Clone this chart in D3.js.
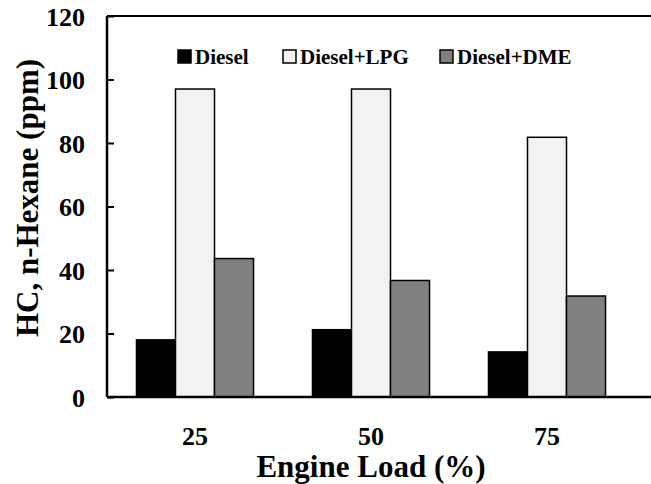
<!DOCTYPE html>
<html>
<head>
<meta charset="utf-8">
<script src="https://cdn.jsdelivr.net/npm/d3@7"></script>
<style>
    body { margin: 0; background: #fff; }
    text { font-family: "Liberation Serif", "Times New Roman", serif; font-weight: bold; fill: #000; }
</style>
</head>
<body>
<div id="chartContainer"></div>
<script>
/***** Chart data */

const engineLoads = ['25', '50', '75'];
const seriesNames = ['Diesel', 'Diesel+LPG', 'Diesel+DME'];
const seriesColors = ['#000000', '#f2f2f2', '#808080'];
const dieselValues = [18, 21.2, 14.2];
const lpgValues = [97, 97, 81.8];
const dmeValues = [43.6, 36.7, 31.8];
const yTicks = [0, 20, 40, 60, 80, 100, 120];

/***** Drawing */

const width = 651;
const height = 484;
const plotLeft = 107;
const plotRight = 635;
const plotTop = 16;
const plotBottom = 397;

const svg = d3.select('#chartContainer').append('svg')
    .attr('width', width)
    .attr('height', height);

const x0 = d3.scaleBand()
    .domain(engineLoads)
    .range([plotLeft, plotRight])
    .paddingInner(0.335)
    .paddingOuter(0.1675);

const x1 = d3.scaleBand()
    .domain(seriesNames)
    .range([0, x0.bandwidth()]);

const y = d3.scaleLinear()
    .domain([0, 120])
    .range([plotBottom, plotTop]);

const color = d3.scaleOrdinal()
    .domain(seriesNames)
    .range(seriesColors);

const allValues = [dieselValues, lpgValues, dmeValues];

// one group per engine load, one bar per fuel
const groups = svg.selectAll('.loadGroup')
    .data(engineLoads)
    .enter()
    .append('g')
    .attr('class', 'loadGroup')
    .attr('transform', load => `translate(${x0(load)},0)`);

groups.selectAll('rect')
    .data((load, i) => seriesNames.map((name, s) => ({ name: name, value: allValues[s][i] })))
    .enter()
    .append('rect')
    .attr('x', d => x1(d.name))
    .attr('y', d => y(d.value))
    .attr('width', x1.bandwidth())
    .attr('height', d => y(0) - y(d.value))
    .attr('fill', d => color(d.name))
    .attr('stroke', '#000')
    .attr('stroke-width', 1.5);

// y axis, ticks pointing into the plot
const yAxis = svg.append('g')
    .attr('transform', `translate(${plotLeft},0)`)
    .call(d3.axisRight(y).tickValues(yTicks).tickSize(7).tickFormat(d3.format('d')));
yAxis.select('.domain').remove();
yAxis.selectAll('line').attr('stroke', '#000').attr('stroke-width', 2);
yAxis.selectAll('text')
    .attr('x', -22)
    .attr('text-anchor', 'end')
    .attr('dy', '0.35em')
    .style('font-size', '26px');

// frame: left, bottom and top lines (right side is cut off)
svg.append('line')
    .attr('x1', plotLeft).attr('x2', plotLeft)
    .attr('y1', plotTop).attr('y2', plotBottom)
    .attr('stroke', '#000').attr('stroke-width', 2.5);
svg.append('line')
    .attr('x1', plotLeft).attr('x2', width)
    .attr('y1', plotBottom).attr('y2', plotBottom)
    .attr('stroke', '#000').attr('stroke-width', 2.5);
svg.append('line')
    .attr('x1', plotLeft).attr('x2', width)
    .attr('y1', plotTop).attr('y2', plotTop)
    .attr('stroke', '#000').attr('stroke-width', 2);

// x labels
svg.selectAll('.xLabel')
    .data(engineLoads)
    .enter()
    .append('text')
    .attr('class', 'xLabel')
    .attr('x', load => x0(load) + x0.bandwidth() / 2)
    .attr('y', 445)
    .attr('text-anchor', 'middle')
    .style('font-size', '26px')
    .text(load => load);

svg.append('text')
    .attr('x', (plotLeft + plotRight) / 2)
    .attr('y', 477)
    .attr('text-anchor', 'middle')
    .style('font-size', '31px')
    .text('Engine Load (%)');

svg.append('text')
    .attr('transform', `translate(38,198) rotate(-90)`)
    .attr('text-anchor', 'middle')
    .style('font-size', '31px')
    .text('HC, n-Hexane (ppm)');

// legend
const legendX = [178, 283, 440];
const legend = svg.selectAll('.legendItem')
    .data(seriesNames)
    .enter()
    .append('g')
    .attr('class', 'legendItem')
    .attr('transform', (name, i) => `translate(${legendX[i]},50)`);
legend.append('rect')
    .attr('width', 13)
    .attr('height', 13)
    .attr('fill', name => color(name))
    .attr('stroke', '#000')
    .attr('stroke-width', 1.5);
legend.append('text')
    .attr('x', 17)
    .attr('y', 14)
    .style('font-size', '21px')
    .text(name => name);
</script>
</body>
</html>
